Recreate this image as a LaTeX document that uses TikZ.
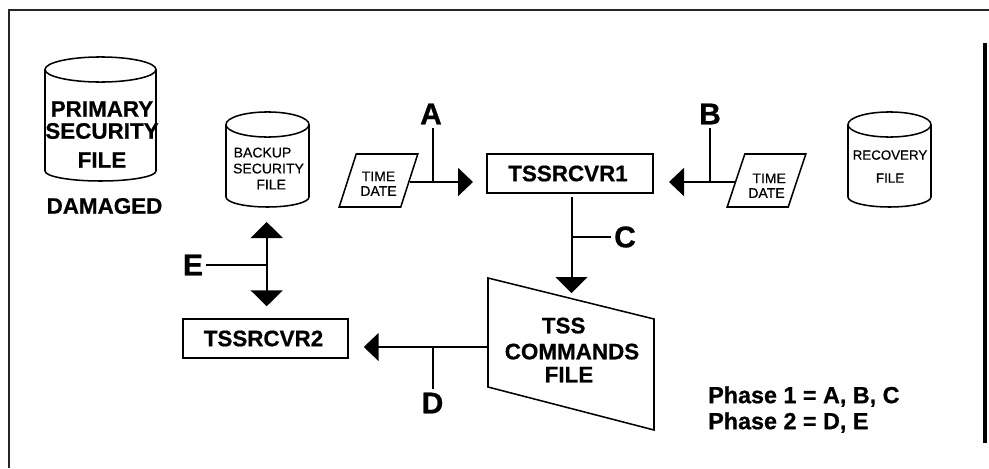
\documentclass[tikz,border=0pt]{standalone}
\usepackage{fontspec}
\setmainfont[BoldFeatures={FakeBold=0.7}]{Liberation Sans}
\newfontfamily\smallface[FakeBold=0.5]{Liberation Sans}
\usetikzlibrary{arrows.meta,shapes.geometric,calc}
\tikzset{
  shapeline/.style={draw=black,line width=1.15pt},
  bigtext/.style={font=\bfseries\fontsize{16.8}{16.5}\selectfont,align=center,inner sep=0pt},
  smalltext/.style={font=\smallface\fontsize{10.5}{12}\selectfont,align=center,inner sep=0pt},
  letter/.style={font=\bfseries\fontsize{22.5}{22.5}\selectfont,inner sep=2.25pt},
  boxa/.style={draw=black,line width=1.5pt,minimum width=124.5pt,minimum height=29.25pt,inner sep=0pt,font=\bfseries\fontsize{16.8}{16.5}\selectfont},
  boxb/.style={draw=black,line width=1.1pt,minimum width=123.75pt,minimum height=29.25pt,inner sep=0pt,font=\bfseries\fontsize{16.8}{16.5}\selectfont},
  slanted/.style={shapeline,shape=trapezium,trapezium stretches=true,trapezium left angle=65.6,trapezium right angle=114.4,minimum width=59.25pt,minimum height=39.75pt,inner sep=0pt,font=\smallface\fontsize{10.5}{11}\selectfont,align=center},
  mainline/.style={line width=1.5pt},
  branch/.style={line width=1.15pt},
  headS/.style={-{Triangle[length=11.25pt,width=21pt,sep=0pt]}},
  headL/.style={-{Triangle[length=12pt,width=24pt,sep=0pt]}},
  headLL/.style={{Triangle[length=12pt,width=24pt,sep=0pt]}-{Triangle[length=12pt,width=24pt,sep=0pt]}},
}
\newcommand{\drum}[5]{%
  \pgfmathsetmacro{\drumrx}{(#3-#2)/2*.75}%
  \pgfmathsetmacro{\drumcx}{(#3+#2)/2}%
  \draw[shapeline] (\drumcx,#4+12.5) ellipse[x radius=\drumrx pt,y radius=9.4pt];
  \draw[shapeline] (#2,#4+12.5) -- (#2,#5-10)
     arc[start angle=180,end angle=0,x radius=\drumrx pt,y radius=7.5pt] -- (#3,#4+12.5);
  \coordinate (#1-s) at (\drumcx,#5);
}
\begin{document}
\begin{tikzpicture}[x=.75pt,y=.75pt,yscale=-1]
\useasboundingbox (0,0) rectangle (989,468);
\fill[white] (0,0) rectangle (989,468);
% frame
\draw[line width=1.4pt,black!85] (989,9.7) -- (8.7,9.7) -- (8.7,468);
\fill[black] (983,43) rectangle (986.7,443);
% cylinders
\drum{prim}{45}{156}{57}{181}
\drum{back}{226}{309}{112}{207}
\drum{reco}{848}{931}{112}{207}
\node[bigtext] (primtext) at (102,134.5) {PRIMARY\\[.0pt]SECURITY\\[5.25pt]FILE};
\node[bigtext] (damaged) at (104.5,206) {DAMAGED};
\node[smalltext] (backtext) at (268.5,168.5) {\hspace*{-9pt}BACKUP\\[0pt]SECURITY\\[0pt]\hspace*{4pt}FILE};
\node[smalltext,font=\smallface\fontsize{10}{12}\selectfont] (recotext) at (890,166.5) {RECOVERY\\[5.25pt]FILE};
% parallelograms
\node[slanted] (p1) at (378.5,180.5) {\rule{0pt}{12pt}TIME\\DATE};
\node[slanted] (p2) at (766.5,180.5) {\rule{0pt}{15pt}\hspace*{4pt}TIME\\DATE};
% boxes
\node[boxa] (b1) at (570,173.5) {\hspace*{-3pt}TSSRCVR1};
\node[boxb] (b2) at (265.5,338.5) {\hspace*{-3pt}TSSRCVR2};
% commands file
\draw[shapeline] (488,278) -- (654,319) -- (654,430) -- (488,387) -- cycle;
\coordinate (tfleft) at (488,347);
\coordinate (tftop) at (571.5,298.5);
\node[bigtext] (tf) at (572,350) {\hspace*{-12.5pt}TSS\\[3pt]COMMANDS\\[.75pt]\hspace*{-4.5pt}FILE};
% letters
\node[letter] (la) at (431,114) {A};
\node[letter] (lb) at (710,114) {B};
\node[letter] (lc) at (625,237) {C};
\node[letter] (ld) at (432.5,403) {D};
\node[letter] (le) at (193,265) {E};
% junctions
\coordinate (ja) at (433,182);
\coordinate (jb) at (710,182);
\coordinate (jc) at (571.5,237);
\coordinate (jd) at (433,347);
\coordinate (je) at (266.7,265);
% connectors
\draw[mainline,headS,shorten >=9.75pt] (p1.east |- ja) -- (b1.west |- ja);
\draw[branch] (ja) -- (ja |- la.south);
\draw[mainline,headS,shorten >=11.25pt] (p2.west |- jb) -- (b1.east |- jb);
\draw[branch] (jb) -- (lb.south);
\draw[mainline,headL,shorten <=2.25pt,shorten >=4.1pt] (b1.south -| jc) -- (tftop);
\draw[branch] (jc) -- (lc.west);
\draw[mainline,headS,shorten >=11.25pt] (tfleft) -- (b2.east |- tfleft);
\draw[branch] (jd) -- (jd |- ld.north);
\draw[mainline,headLL,shorten <=11.25pt,shorten >=9pt] (back-s -| je) -- (b2.north -| je);
\draw[branch] (je) -- (le.east);
% phases
\node[font=\bfseries\fontsize{17.5}{19.5}\selectfont,align=left,inner sep=0pt,anchor=north west] (phase) at (708,386) {Phase 1 = A, B, C\\Phase 2 = D, E};
\end{tikzpicture}
\end{document}
